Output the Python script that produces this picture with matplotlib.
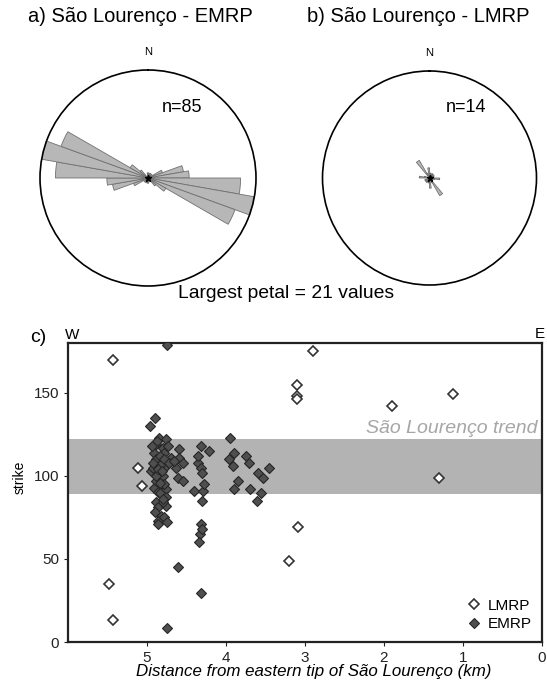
import numpy as np
import matplotlib
matplotlib.use("Agg")
import matplotlib.pyplot as plt

plt.rcParams['font.family'] = ['Liberation Sans', 'DejaVu Sans']

# ---- strike measurements: distance from eastern tip (km) and strike (deg) ----
lmrp_dist = [5.43, 5.48, 5.43, 5.11, 5.06, 2.90, 3.10, 3.10, 3.10, 3.09, 3.20, 1.90, 1.13, 1.30]
lmrp_strike = [170, 35, 13, 105, 94, 175, 155, 148, 146, 69, 49, 142, 149, 99]

emrp_dist = [
    4.75, 4.90, 4.96, 4.85, 4.76, 4.89, 4.80, 4.73, 4.91, 4.78,
    4.89, 4.70, 4.95, 4.85, 4.78, 4.82, 4.91, 4.82, 4.76, 4.86,
    4.76, 4.89, 4.86, 4.76, 4.82, 4.86, 4.78, 4.75, 4.86, 4.88,
    4.80, 4.93, 4.84, 4.87, 4.80, 4.92, 4.88, 4.79, 4.84, 4.94,
    4.78, 4.86, 4.72, 4.80, 4.84, 4.81,
    4.60, 4.60, 4.54, 4.63, 4.61, 4.54, 4.66, 4.61, 4.75,
    4.32, 4.21, 4.35, 4.32, 4.30, 4.40, 4.29, 4.30, 4.32, 4.33,
    4.34, 4.32, 4.30, 4.35, 4.28,
    3.95, 3.90, 3.96, 3.91, 3.75, 3.71, 3.60, 3.53, 3.46, 3.85,
    3.90, 3.70, 3.56, 3.61, 4.90,
]
emrp_strike = [
    179, 135, 130, 123, 122, 119, 117, 118, 114, 114,
    110, 111, 103, 102, 105, 107, 93, 95, 92, 90.5,
    87, 84, 81, 82, 76, 73, 75, 72, 71, 97,
    100, 105, 112, 121, 84, 108, 100, 95, 90, 118,
    110, 104, 108, 86, 96, 103,
    116, 111, 108, 105, 99, 97, 109, 45, 8.5,
    118, 115, 108, 105, 102, 91, 91, 85, 71, 65,
    60, 29.5, 68, 112, 95,
    123, 114, 110, 106, 112, 108, 102, 99, 105, 97,
    92, 92, 90, 85, 78,
]

trend_band = (89, 122)
largest_petal = 21
bin_width = 10

x_ticks = [5, 4, 3, 2, 1, 0]
y_ticks = [0, 50, 100, 150]

W, H = 547, 681
fig = plt.figure(figsize=(W / 100, H / 100), dpi=100)

petal_face = '#b7b7b7'
petal_edge = '#707070'


def rose(cx, cy, r, strikes, title, title_x, n_x):
    ax = fig.add_axes([(cx - r) / W, (H - cy - r) / H, 2 * r / W, 2 * r / H],
                      projection='polar')
    ax.set_theta_zero_location('N')
    ax.set_theta_direction(-1)
    edges = np.arange(0, 180 + bin_width, bin_width)
    counts, _ = np.histogram(np.asarray(strikes) % 180, bins=edges)
    left = np.deg2rad(edges[:-1])
    width = np.deg2rad(bin_width)
    for offset in (0, np.pi):
        ax.bar(left + offset, counts, width=width, align='edge',
               color=petal_face, edgecolor=petal_edge, linewidth=0.6, zorder=2)
    ax.plot([0], [0], marker='*', color='black', markersize=5, zorder=3)
    ax.set_ylim(0, largest_petal)
    ax.set_yticks([])
    ax.grid(False)
    ax.set_xticks(np.deg2rad([0, 90, 180, 270]))
    ax.set_xticklabels(['N', '', '', ''], fontsize=8)
    ax.tick_params(axis='x', direction='out', length=5, width=0.8, pad=1)
    ax.spines['polar'].set_linewidth(1.2)
    fig.text(title_x / W, 1 - 22 / H, title, fontsize=14.5, ha='left', va='baseline')
    fig.text(n_x / W, 1 - 112 / H, f"n={len(strikes)}", fontsize=13,
             ha='left', va='baseline')
    return ax


rose(148, 178, 108, emrp_strike, 'a) São Lourenço - EMRP', 28, 162)
rose(429.5, 178, 107, lmrp_strike, 'b) São Lourenço - LMRP', 307, 446)

fig.text(178 / W, 1 - 298 / H, f'Largest petal = {largest_petal} values',
         fontsize=13.9, ha='left', va='baseline')

# ---- panel c: strike vs distance ----
axc = fig.add_axes([68 / W, 39 / H, 474 / W, 299 / H])
axc.axhspan(trend_band[0], trend_band[1], color='#b3b3b3', lw=0, zorder=0)
axc.plot(emrp_dist, emrp_strike, linestyle='none', marker='D', markersize=5.2,
         markerfacecolor='#4f4f4f', markeredgecolor='#262626', markeredgewidth=0.8,
         label='EMRP', zorder=3)
axc.plot(lmrp_dist, lmrp_strike, linestyle='none', marker='D', markersize=4.6,
         markerfacecolor='white', markeredgecolor='#333333', markeredgewidth=1.2,
         label='LMRP', zorder=4)
axc.set_xlim(6, 0)
axc.set_ylim(0, 180)
axc.set_xticks(x_ticks)
axc.set_yticks(y_ticks)
axc.tick_params(direction='out', length=3, width=0.8, labelsize=11, colors='#222222')
for s in axc.spines.values():
    s.set_linewidth(1.6)
    s.set_color('#222222')
axc.set_ylabel('strike', fontsize=10)
axc.yaxis.set_label_coords(-0.088, 0.55)
axc.set_xlabel('Distance from eastern tip of São Lourenço (km)', fontsize=12.2,
               style='italic', labelpad=-1)
axc.xaxis.label.set_x(0.519)
axc.text(0.99, (trend_band[1] + 1.5) / 180, 'São Lourenço trend', transform=axc.transAxes,
         ha='right', va='bottom', fontsize=14, style='italic', color='#a6a6a6')

handles, labels = axc.get_legend_handles_labels()
axc.legend(handles[::-1], labels[::-1], loc='lower right', frameon=False, fontsize=11,
           handletextpad=0.3, borderaxespad=0.3, labelspacing=0.3, handlelength=1.2)

fig.text(30 / W, 1 - 342 / H, 'c)', fontsize=14, ha='left', va='baseline')
fig.text(65 / W, 1 - 339 / H, 'W', fontsize=11, ha='left', va='baseline')
fig.text(535 / W, 1 - 338 / H, 'E', fontsize=11, ha='left', va='baseline')

fig.savefig('out.png', dpi=100)
